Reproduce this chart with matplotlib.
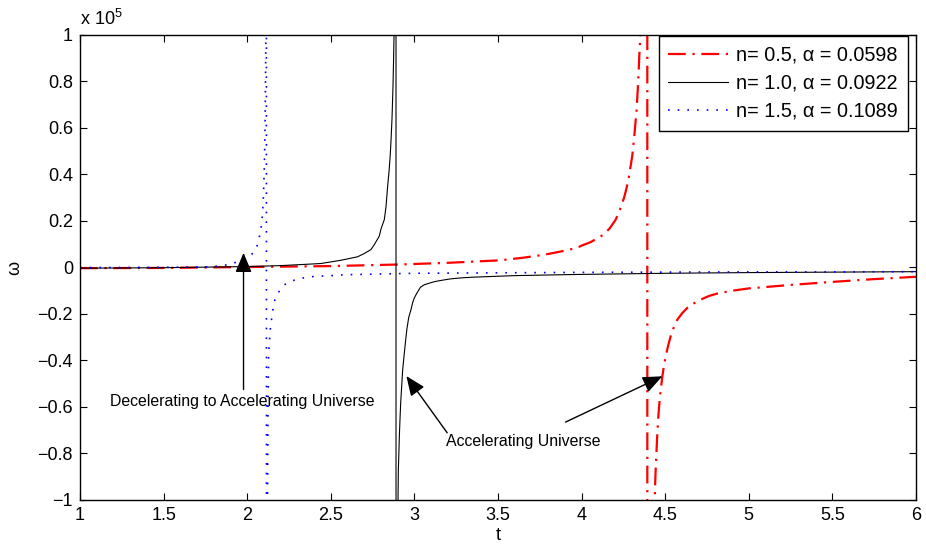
import matplotlib
matplotlib.use("Agg")
import matplotlib.pyplot as plt

plt.rcParams["font.family"] = ["Liberation Sans", "DejaVu Sans"]
plt.rcParams["mathtext.fontset"] = "custom"
plt.rcParams["mathtext.rm"] = "Liberation Sans"
plt.rcParams["mathtext.it"] = "Liberation Sans"

# n = 0.5 (red, dash-dot) -- omega in units of 1e5
t_red = [1.0, 1.5, 2.0, 2.5, 2.916, 3.2, 3.515, 3.65, 3.75, 3.814, 3.904,
         3.974, 4.0, 4.054, 4.09, 4.133, 4.17, 4.204, 4.23, 4.254, 4.27, 4.283,
         4.293, 4.303, 4.31, 4.317, 4.323, 4.329, 4.333, 4.337, 4.341, 4.345,
         4.348, 4.351, 4.37, 4.392,
         4.394, 4.41, 4.43, 4.437, 4.44, 4.443, 4.448, 4.453, 4.46, 4.467,
         4.475, 4.483, 4.493, 4.503, 4.518, 4.533, 4.55, 4.573, 4.60, 4.633,
         4.67, 4.713, 4.76, 4.812, 4.9, 5.0, 5.25, 5.5, 5.75, 6.0]
w_red = [-0.003, -0.002, 0.002, 0.006, 0.013, 0.02, 0.031, 0.042, 0.052,
         0.060, 0.073, 0.085, 0.094, 0.109, 0.124, 0.142, 0.17, 0.206, 0.25,
         0.30, 0.345, 0.39, 0.435, 0.48, 0.53, 0.58, 0.63, 0.68, 0.73, 0.78,
         0.84, 0.91, 0.95, 0.995, 1.8, 20.0,
         -20.0, -2.5, -1.3, -1.0, -0.93, -0.869, -0.79, -0.711, -0.63, -0.568,
         -0.515, -0.468, -0.42, -0.381, -0.335, -0.295, -0.26, -0.224, -0.198,
         -0.173, -0.155, -0.138, -0.123, -0.112, -0.100, -0.090, -0.075,
         -0.062, -0.050, -0.040]

# n = 1.0 (black, solid)
t_blk = [1.0, 1.5, 2.0, 2.2, 2.44, 2.56, 2.66, 2.70, 2.74, 2.76, 2.79, 2.80,
         2.82, 2.83, 2.84, 2.848, 2.856, 2.861, 2.866, 2.869, 2.872, 2.875,
         2.878, 2.884, 2.8895,
         2.8905, 2.896, 2.902, 2.904, 2.907, 2.910, 2.914, 2.918, 2.924,
         2.930, 2.938, 2.946, 2.955, 2.966, 2.98, 2.99, 3.0, 3.016, 3.036,
         3.06, 3.096, 3.12, 3.156, 3.216, 3.275, 3.34, 3.415, 3.6, 3.974,
         4.5, 5.0, 5.5, 6.0]
w_blk = [-0.003, -0.001, 0.004, 0.008, 0.017, 0.031, 0.046, 0.060, 0.077,
         0.098, 0.135, 0.165, 0.206, 0.26, 0.35, 0.41, 0.49, 0.56, 0.64, 0.71,
         0.78, 0.88, 0.995, 2.2, 10.0,
         -10.0, -2.0, -1.0, -0.869, -0.80, -0.726, -0.65, -0.582, -0.51,
         -0.439, -0.38, -0.324, -0.265, -0.215, -0.18, -0.15, -0.13, -0.109,
         -0.085, -0.074, -0.066, -0.061, -0.056, -0.049, -0.045, -0.042,
         -0.040, -0.035, -0.030, -0.025, -0.022, -0.020, -0.018]

# n = 1.5 (blue, dotted)
t_blu = [1.0, 1.25, 1.5, 1.7, 1.78, 1.86, 1.91, 1.96, 1.98, 2.0, 2.02, 2.04,
         2.05, 2.06, 2.068, 2.075, 2.08, 2.085, 2.089, 2.092, 2.095, 2.097,
         2.099, 2.101, 2.103, 2.105, 2.1065, 2.108, 2.1095, 2.111, 2.113,
         2.1145,
         2.1155, 2.118, 2.121, 2.1225, 2.124, 2.126, 2.128, 2.130, 2.134,
         2.138, 2.144, 2.150, 2.158, 2.166, 2.180, 2.19, 2.207, 2.22, 2.247,
         2.27, 2.297, 2.347, 2.397, 2.6, 3.0, 3.5, 4.0, 4.5, 5.0, 5.5, 6.0]
w_blu = [0.0, 0.0, 0.001, 0.002, 0.003, 0.009, 0.016, 0.03, 0.036, 0.043,
         0.053, 0.065, 0.078, 0.095, 0.115, 0.14, 0.16, 0.18, 0.21, 0.24,
         0.275, 0.31, 0.355, 0.40, 0.455, 0.52, 0.6, 0.70, 0.82, 0.95, 1.4,
         3.0,
         -3.0, -2.0, -1.1, -0.85, -0.65, -0.5, -0.39, -0.35, -0.31, -0.267,
         -0.231, -0.20, -0.16, -0.138, -0.117, -0.104, -0.085, -0.076, -0.063,
         -0.057, -0.052, -0.043, -0.039, -0.031, -0.025, -0.023, -0.021,
         -0.020, -0.019, -0.019, -0.018]

labels = ["n= 0.5, α = 0.0598", "n= 1.0, α = 0.0922", "n= 1.5, α = 0.1089"]

xticks = [1, 1.5, 2, 2.5, 3, 3.5, 4, 4.5, 5, 5.5, 6]
xtick_labels = ["1", "1.5", "2", "2.5", "3", "3.5", "4", "4.5", "5", "5.5", "6"]
yticks = [-1, -0.8, -0.6, -0.4, -0.2, 0, 0.2, 0.4, 0.6, 0.8, 1]
ytick_labels = ["\u22121", "\u22120.8", "\u22120.6", "\u22120.4", "\u22120.2", "0",
                "0.2", "0.4", "0.6", "0.8", "1"]

fig = plt.figure(figsize=(9.26, 5.51), dpi=100)
ax = fig.add_axes([0.0864, 0.0926, 0.9028, 0.8439])

ax.plot(t_red, w_red, color="#ff0000", lw=1.6, linestyle=(0, (8, 3, 1, 3)),
        label=labels[0])
ax.plot(t_blk, w_blk, color="black", lw=0.8, label=labels[1])
ax.plot(t_blu, w_blu, color="#0000ff", lw=1.2, linestyle=(0, (1, 4.8)),
        label=labels[2])

ax.set_xlim(1, 6)
ax.set_ylim(-1, 1)
ax.set_xticks(xticks)
ax.set_xticklabels(xtick_labels)
ax.set_yticks(yticks)
ax.set_yticklabels(ytick_labels)
ax.tick_params(direction="in", length=5, width=0.8, top=True, right=True,
               labelsize=13, pad=5)
for s in ax.spines.values():
    s.set_linewidth(1.0)

ax.set_xlabel("t", fontsize=13, labelpad=2)
ax.set_ylabel("ω", fontsize=13, labelpad=10)
ax.text(0, 1.012, r"x 10$^{5}$", transform=ax.transAxes, fontsize=13,
        ha="left", va="bottom")

leg = ax.legend(loc="upper right", bbox_to_anchor=(0.990, 0.998),
                borderaxespad=0, fontsize=14.3, fancybox=False, framealpha=1,
                edgecolor="black", handlelength=3.0, handletextpad=0.4,
                labelspacing=0.45, borderpad=0.5)
leg.get_frame().set_linewidth(1.0)

arrow = dict(arrowstyle="-|>,head_length=1.0,head_width=0.42",
             mutation_scale=12, color="black", lw=1.0, shrinkA=0, shrinkB=0)
ax.annotate("", xy=(1.978, 0.063), xytext=(1.978, -0.525), arrowprops=arrow)
ax.annotate("", xy=(2.952, -0.467), xytext=(3.196, -0.711), arrowprops=arrow)
ax.annotate("", xy=(4.483, -0.468), xytext=(3.904, -0.665), arrowprops=arrow)
ax.text(1.973, -0.575, "Decelerating to Accelerating Universe", fontsize=11.4,
        ha="center", va="center")
ax.text(3.653, -0.748, "Accelerating Universe", fontsize=11.4,
        ha="center", va="center")

fig.savefig("out.png", dpi=100)
